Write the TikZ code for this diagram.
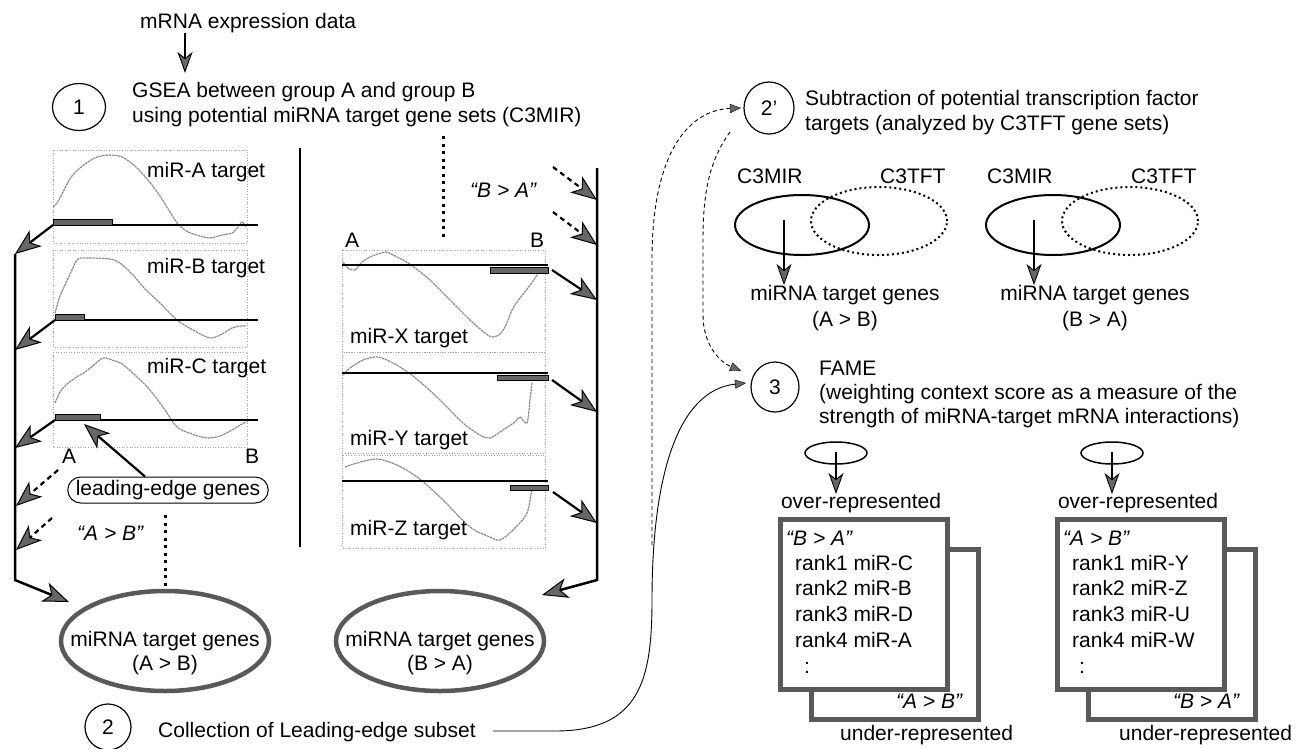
\documentclass[tikz,border=0pt]{standalone}
\usepackage{fontspec}
\setmainfont{Liberation Sans}
\usetikzlibrary{arrows.meta,shapes.geometric}
\begin{document}
\begin{tikzpicture}[x=1pt,y=-1pt,
  txt/.style={font=\fontsize{21}{25}\selectfont, inner sep=0pt},
  circ/.style={ellipse, draw, line width=1.2pt, inner sep=0pt, font=\fontsize{21}{25}\selectfont},
  pbox/.style={draw=black!35, dotted, line width=0.6pt},
  curve/.style={draw=black!45, line width=1.2pt, dash pattern=on 2.5pt off 0.7pt},
  baseln/.style={line width=1.3pt},
  lebar/.style={fill=black!60, draw=black, line width=0.5pt},
  big/.style={line width=2.2pt, -{Stealth[length=26pt,width=20pt,inset=7pt,fill=black!60,line width=1pt]}},
  bigd/.style={big, dash pattern=on 5pt off 4pt},
  med/.style={line width=1.8pt, -{Stealth[length=21pt,width=15pt,inset=6pt,fill=black!60,line width=0.9pt]}},
  sml/.style={line width=0.9pt, -{Triangle[length=11pt,width=9pt,fill=black!60,line width=0.4pt]}},
  smld/.style={sml, dash pattern=on 4pt off 3pt},
  dotv/.style={line width=3pt, dash pattern=on 3pt off 4.5pt},
  bigell/.style={ellipse, draw=black!65, line width=4.5pt, inner sep=0pt},
  venn/.style={ellipse, draw, line width=2pt, inner sep=0pt},
  venndot/.style={venn, dash pattern=on 2pt off 3pt},
  boxb/.style={draw=black!65, line width=4.5pt, fill=white, inner sep=0pt, anchor=north west},
]
\fill[white] (0,0) rectangle (1301,748);
\useasboundingbox (0,0) rectangle (1301,748);

% ---------- top ----------
\node[txt, anchor=base west] (mrna) at (140,28) {mRNA expression data};
\coordinate (mrnaT) at (185,73);
\draw[med] (mrna.south -| mrnaT) -- (mrnaT);
\node[circ, minimum width=53pt, minimum height=47pt] (c1) at (79,107) {1};
\node[txt, anchor=base west] (g1) at (132,97) {GSEA between group A and group B};
\node[txt, anchor=base west] (g2) at (132,122) {using potential miRNA target gene sets (C3MIR)};

% divider
\coordinate (dvT) at (300,148); \coordinate (dvB) at (300,547);
\draw[line width=1.6pt] (dvT) -- (dvB);

% ---------- left panels ----------
\draw[pbox] (53,150) rectangle (247,243);
\draw[curve] plot[smooth] coordinates {(53,207) (57,203) (61,196) (66,186) (72,176) (80,168) (88,162) (97,157) (110,155) (122,157) (135,166) (148,180) (160,196) (170,212) (178,224) (188,232) (200,236) (210,238) (222,235) (232,233) (238,227) (242,222) (246,227)};
\coordinate (pA) at (53,225); \coordinate (pAe) at (258,225);
\draw[baseln] (pA) -- (pAe);
\draw[lebar] (53,219) rectangle (112,225);
\node[txt, anchor=base west] (lA) at (147,177) {miR-A target};

\draw[pbox] (53,250) rectangle (247,347);
\draw[curve] plot[smooth] coordinates {(55,313) (60,296) (65,285) (72,270) (78,259) (90,258) (110,259) (120,263) (133,275) (145,289) (160,303) (177,320) (193,330) (210,338) (222,334) (232,328) (240,326) (246,326)};
\coordinate (pB) at (55,320); \coordinate (pBe) at (258,320);
\draw[baseln] (pB) -- (pBe);
\draw[lebar] (55,314) rectangle (84,320);
\node[txt, anchor=base west] (lB) at (147,273) {miR-B target};

\draw[pbox] (53,352) rectangle (247,447);
\draw[curve] plot[smooth] coordinates {(55,403) (60,392) (66,385) (75,378) (85,372) (95,364) (103,358) (112,360) (122,364) (135,375) (150,390) (165,410) (177,427) (192,434) (207,438) (220,436) (232,430) (240,425) (246,422)};
\coordinate (pC) at (55,420); \coordinate (pCe) at (258,420);
\draw[baseln] (pC) -- (pCe);
\draw[lebar] (55,414) rectangle (100,420);
\node[txt, anchor=base west] (lC) at (147,373) {miR-C target};

\node[txt, anchor=base west] (lxA) at (62,463) {A};
\node[txt, anchor=base west] (lxB) at (245,463) {B};
\node[txt, draw, line width=1pt, rounded corners=13pt, minimum height=26pt, inner xsep=8pt] (le) at (168,490) {leading-edge genes};
\coordinate (leT) at (84,424);
\draw[big] ([xshift=-23pt]le.north) -- (leT);

% left collector
\coordinate (L1) at (15,254); \coordinate (L2) at (15,350); \coordinate (L3) at (15,448);
\coordinate (L4) at (16,506); \coordinate (L5) at (16,550);
\coordinate (Lb) at (15,580); \coordinate (aAB) at (69,602);
\draw[big, line width=2.5pt] (L1) -- (Lb) -- (aAB);
\draw[big] (pA) -- (L1);
\draw[big] (pB) -- (L2);
\draw[big] (pC) -- (L3);
\coordinate (d1) at (58,470); \coordinate (d2) at (52,518);
\draw[bigd] (d1) -- (L4);
\draw[bigd] (d2) -- (L5);
\node[txt, anchor=base west] (qAB) at (77,540) {\textit{“A > B”}};
\coordinate (dl1) at (165,515); \coordinate (dl2) at (165,590);
\draw[dotv] (dl1) -- (dl2);

% result ellipses
\node[bigell, minimum width=208pt, minimum height=100pt] (eAB) at (165,641) {};
\node[txt, anchor=base] (eAB1) at (165,646) {miRNA target genes};
\node[txt, anchor=base] (eAB2) at (165,670) {(A > B)};
\node[bigell, minimum width=208pt, minimum height=100pt] (eBA) at (440,641) {};
\node[txt, anchor=base] (eBA1) at (440,646) {miRNA target genes};
\node[txt, anchor=base] (eBA2) at (440,670) {(B > A)};

% ---------- middle panels ----------
\node[txt, anchor=base west] (mA) at (345,247) {A};
\node[txt, anchor=base west] (mB) at (530,247) {B};
\node[txt, anchor=base west] (qBA) at (470,197) {\textit{“B > A”}};
\coordinate (dm1) at (443,136); \coordinate (dm2) at (443,240);
\draw[dotv] (dm1) -- (dm2);

\draw[pbox] (342,250) rectangle (545,352);
\draw[curve] plot[smooth] coordinates {(343,262) (348,268) (355,270) (362,262) (370,257) (378,254) (386,252) (395,256) (405,261) (415,268) (430,280) (450,300) (470,320) (485,333) (492,337) (500,334) (506,325) (512,310) (520,298) (528,288) (535,278) (539,272)};
\coordinate (xL) at (342,265); \coordinate (xR) at (548,265);
\draw[baseln] (xL) -- (xR);
\draw[lebar] (490,267) rectangle (548,273);
\node[txt, anchor=base west] (lX) at (350,343) {miR-X target};

\draw[pbox] (342,352) rectangle (545,453);
\draw[curve] plot[smooth] coordinates {(343,375) (350,368) (363,360) (378,357) (395,364) (413,376) (437,397) (463,423) (480,435) (490,438) (503,430) (515,422) (520,417) (527,423) (530,400) (532,383)};
\coordinate (yL) at (342,373); \coordinate (yR) at (548,373);
\draw[baseln] (yL) -- (yR);
\draw[lebar] (497,375) rectangle (548,380);
\node[txt, anchor=base west] (lY) at (350,445) {miR-Y target};

\draw[pbox] (342,455) rectangle (545,548);
\draw[curve] plot[smooth] coordinates {(345,467) (357,463) (377,459) (397,465) (417,477) (440,497) (470,527) (490,537) (500,540) (513,530) (527,513) (532,487)};
\coordinate (zL) at (342,481); \coordinate (zR) at (548,481);
\draw[baseln] (zL) -- (zR);
\draw[lebar] (510,485) rectangle (548,490);
\node[txt, anchor=base west] (lZ) at (350,535) {miR-Z target};

% right collector
\coordinate (R0) at (597,168); \coordinate (R1) at (597,200); \coordinate (R2) at (597,245);
\coordinate (R3) at (597,300); \coordinate (R4) at (597,412); \coordinate (R5) at (597,523);
\coordinate (Rb) at (597,580); \coordinate (aBA) at (542,595);
\draw[big, line width=2.5pt] (R0) -- (Rb) -- (aBA);
\coordinate (e1) at (553,167); \coordinate (e2) at (553,212);
\draw[bigd] (e1) -- (R1);
\draw[bigd] (e2) -- (R2);
\coordinate (pX) at (552,270); \coordinate (pY) at (552,380); \coordinate (pZ) at (553,492);
\draw[big] (pX) -- (R3);
\draw[big] (pY) -- (R4);
\draw[big] (pZ) -- (R5);

% ---------- bottom ----------
\node[circ, minimum width=46pt, minimum height=46pt] (c2) at (108,727) {2};
\node[txt, anchor=base west] (coll) at (158,737) {Collection of Leading-edge subset};

% ---------- right part ----------
\node[circ, minimum width=50pt, minimum height=52pt] (c2p) at (769,108) {2’};
\node[txt, anchor=base west] (s1) at (805,105) {Subtraction of potential transcription factor};
\node[txt, anchor=base west] (s2) at (805,130) {targets (analyzed by C3TFT gene sets)};

\node[txt, anchor=base west] (vm1) at (737,183) {C3MIR};
\node[txt, anchor=base west] (vt1) at (880,183) {C3TFT};
\node[venndot, minimum width=136pt, minimum height=68pt] (vd1) at (879,221) {};
\node[venn, minimum width=134pt, minimum height=60pt] (vs1) at (802,225) {};
\coordinate (va1) at (784,220); \coordinate (vb1) at (784,285);
\draw[med] (va1) -- (vb1);
\node[txt, anchor=base] (vg1) at (845,300) {miRNA target genes};
\node[txt, anchor=base] (vg1b) at (845,326) {(A > B)};

\node[txt, anchor=base west] (vm2) at (987,183) {C3MIR};
\node[txt, anchor=base west] (vt2) at (1131,183) {C3TFT};
\node[venndot, minimum width=136pt, minimum height=68pt] (vd2) at (1130,221) {};
\node[venn, minimum width=134pt, minimum height=60pt] (vs2) at (1053,225) {};
\coordinate (va2) at (1034,220); \coordinate (vb2) at (1034,285);
\draw[med] (va2) -- (vb2);
\node[txt, anchor=base] (vg2) at (1095,300) {miRNA target genes};
\node[txt, anchor=base] (vg2b) at (1095,326) {(B > A)};

\node[circ, minimum width=48pt, minimum height=50pt] (c3) at (775,387) {3};
\node[txt, anchor=base west] (f1) at (819,375) {FAME};
\node[txt, anchor=base west] (f2) at (819,399) {(weighting context score as a measure of the};
\node[txt, anchor=base west] (f3) at (819,423) {strength of miRNA-target mRNA interactions)};

% connectors between steps
\coordinate (collS) at (493,731);
\coordinate (c3in) at (746,383);
\coordinate (c2pin) at (741,108);
\coordinate (c2pout) at (730,132);
\coordinate (c3in2) at (741,371);
\coordinate (split) at (652,545);
\draw[sml] (collS) -- (555,731) .. controls (640,731) and (652,680) .. (652,600) .. controls (652,470) and (680,390) .. (c3in);
\draw[smld] (split) -- (652,260) .. controls (652,150) and (690,110) .. (c2pin);
\draw[smld] (c2pout) .. controls (710,160) and (703,190) .. (703,240) -- (703,315) .. controls (703,345) and (720,362) .. (c3in2);

% FAME outputs
\node[venn, line width=1.5pt, minimum width=62pt, minimum height=22pt] (lp1) at (836,453) {};
\coordinate (lp1a) at (836,452); \coordinate (lp1b) at (836,494);
\draw[med] (lp1a) -- (lp1b);
\node[venn, line width=1.5pt, minimum width=62pt, minimum height=22pt] (lp2) at (1112,453) {};
\coordinate (lp2a) at (1112,452); \coordinate (lp2b) at (1112,494);
\draw[med] (lp2a) -- (lp2b);
\node[txt, anchor=base] (ov1) at (861,508) {over-represented};
\node[txt, anchor=base] (ov2) at (1138,508) {over-represented};

\node[boxb, minimum width=167pt, minimum height=170pt] (bk1) at (809,547) {};
\node[boxb, minimum width=167pt, minimum height=170pt] (fr1) at (778,517) {};
\node[boxb, minimum width=167pt, minimum height=170pt] (bk2) at (1086,547) {};
\node[boxb, minimum width=167pt, minimum height=170pt] (fr2) at (1055,517) {};

\node[txt, anchor=base west] (r10) at (786,545) {\textit{“B > A”}};
\node[txt, anchor=base west] (r11) at (795,570) {rank1 miR-C};
\node[txt, anchor=base west] (r12) at (795,595) {rank2 miR-B};
\node[txt, anchor=base west] (r13) at (795,621) {rank3 miR-D};
\node[txt, anchor=base west] (r14) at (795,647) {rank4 miR-A};
\node[txt, anchor=base west] (r15) at (804,673) {:};
\node[txt, anchor=base east] (bl1) at (963,708) {\textit{“A > B”}};
\node[txt, anchor=base west] (un1) at (840,740) {under-represented};

\node[txt, anchor=base west] (r20) at (1063,545) {\textit{“A > B”}};
\node[txt, anchor=base west] (r21) at (1072,570) {rank1 miR-Y};
\node[txt, anchor=base west] (r22) at (1072,595) {rank2 miR-Z};
\node[txt, anchor=base west] (r23) at (1072,621) {rank3 miR-U};
\node[txt, anchor=base west] (r24) at (1072,647) {rank4 miR-W};
\node[txt, anchor=base west] (r25) at (1079,673) {:};
\node[txt, anchor=base east] (bl2) at (1240,708) {\textit{“B > A”}};
\node[txt, anchor=base west] (un2) at (1119,740) {under-represented};
\end{tikzpicture}
\end{document}
